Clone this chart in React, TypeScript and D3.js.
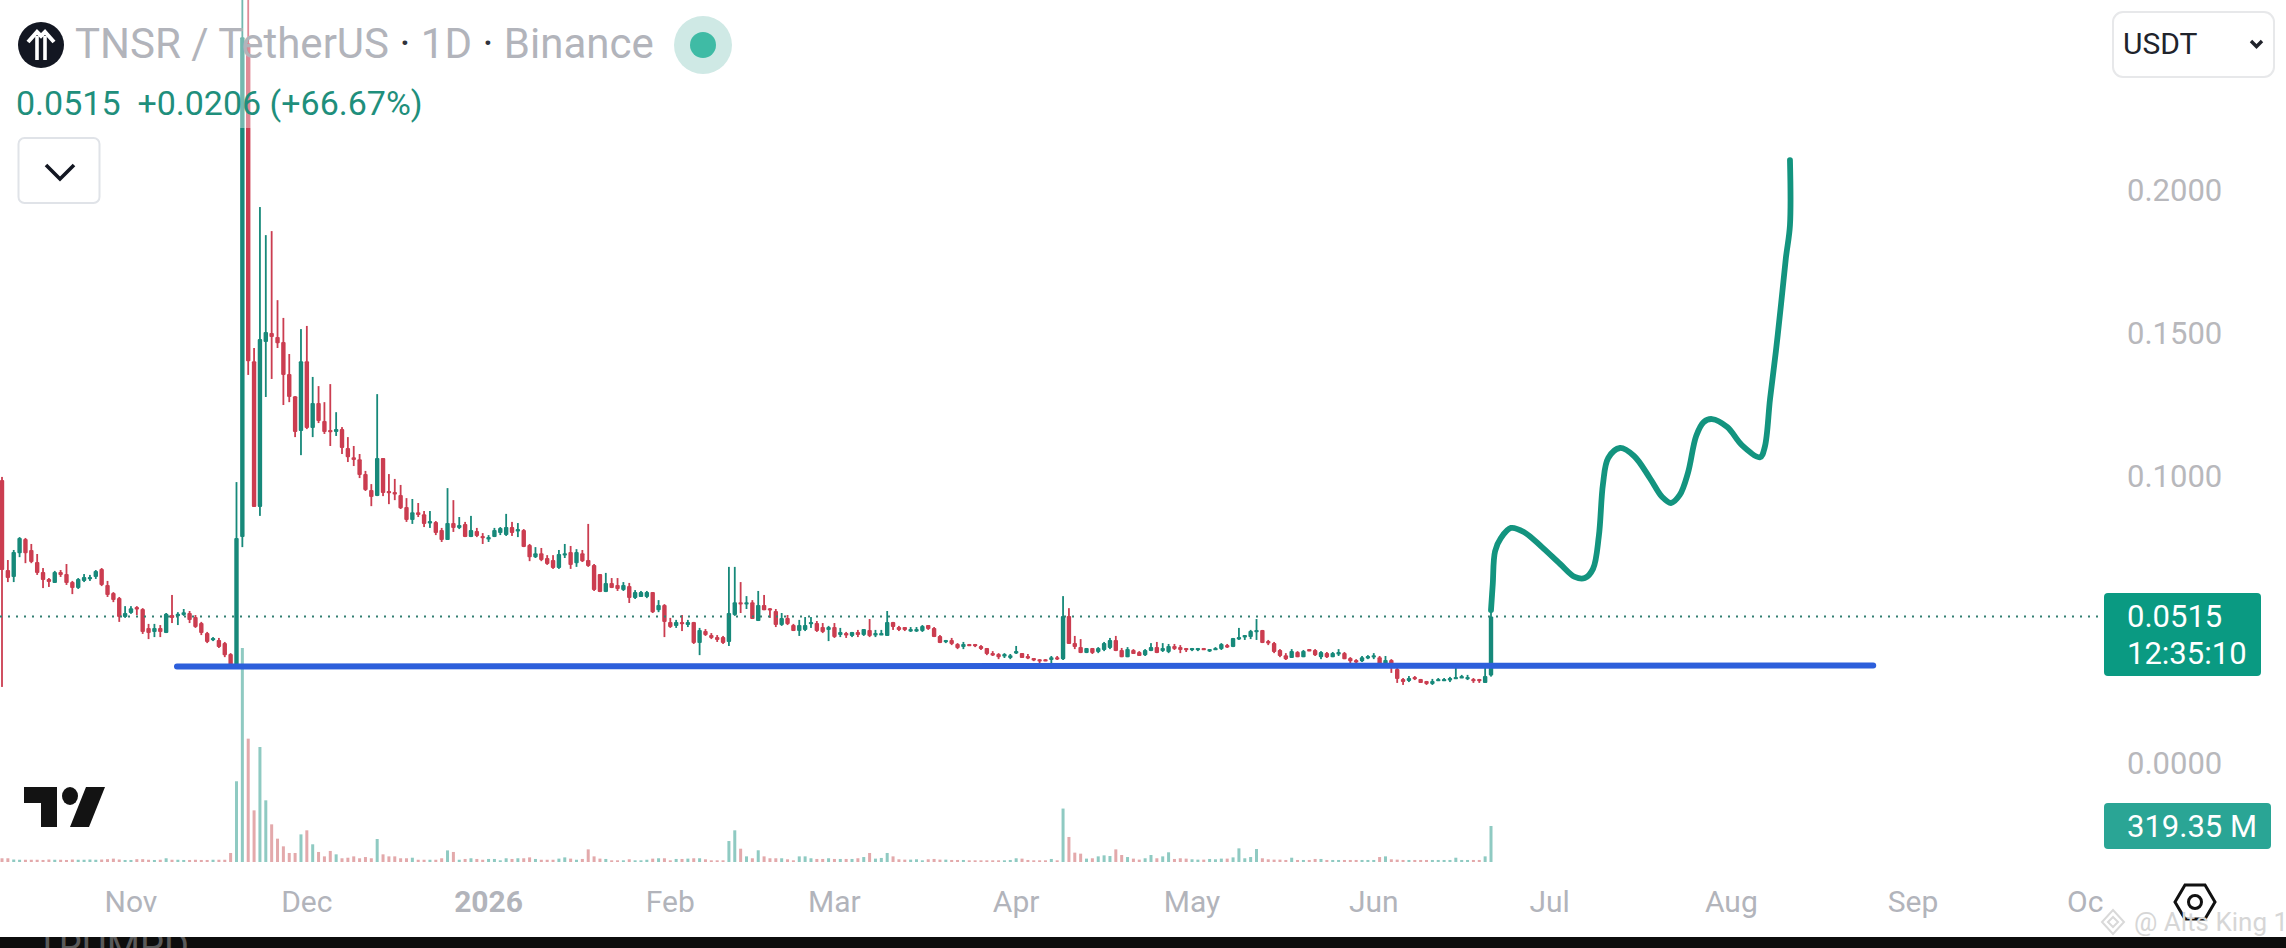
import React from "react";
import * as d3 from "d3";

// Prices are in ten-thousandths of USDT, one entry per daily candle from 10 Oct 2025.
const firstDay = Date.UTC(2025, 9, 10);
const lastDay = Date.UTC(2026, 5, 21);
const PRICE_UNIT = 1e-4;

const highs = [
  1002,712,747,792,789,768,733,684,649,674,
  677,698,639,649,663,660,677,684,639,600,
  583,551,551,551,544,489,489,485,527,590,
  530,541,534,520,496,461,443,440,426,387,
  984,2900,2800,1452,1944,1846,1860,1619,1557,1431,
  1284,1518,1529,1351,1319,1263,1326,1228,1176,1141,
  1110,1082,1023,977,1291,1068,1012,995,974,928,
  925,911,883,883,848,824,963,921,862,845,
  866,824,806,799,824,827,873,845,841,820,
  768,757,754,729,729,747,768,761,750,747,
  838,698,663,667,649,649,635,632,607,604,
  604,600,572,558,510,503,520,503,496,475,
  471,457,450,447,688,688,635,586,572,604,
  590,544,541,527,520,489,503,513,513,499,
  492,482,492,475,461,461,468,471,506,468,
  468,534,496,482,478,478,478,485,485,478,
  450,433,440,422,426,419,419,415,405,394,
  387,387,384,412,387,384,370,366,366,377,
  377,586,544,447,436,405,405,408,426,440,
  447,405,408,401,394,401,422,426,422,419,
  419,415,405,405,405,405,401,408,422,419,
  440,475,450,468,506,468,433,426,401,387,
  401,394,398,401,401,394,391,391,401,391,
  373,366,377,380,387,377,377,366,339,300,
  307,307,297,290,297,300,300,304,339,311,
  311,300,297,339,545,
];
const bodyHighs = [
  991,677,740,789,785,747,705,670,646,670,
  670,663,635,646,653,653,674,681,625,597,
  579,527,544,548,541,475,475,475,524,520,
  524,530,527,513,492,457,440,433,422,384,
  789,2537,2516,1406,1483,1508,1504,1490,1473,1361,
  1284,1406,1406,1260,1260,1197,1166,1169,1169,1103,
  1071,1064,1012,956,1068,1068,953,949,939,897,
  879,879,872,848,845,817,841,841,834,838,
  817,813,796,792,817,824,827,827,820,817,
  764,736,736,719,712,733,736,740,740,736,
  712,695,663,632,632,625,625,621,600,600,
  600,600,555,555,496,496,496,496,496,468,
  464,450,443,443,527,565,565,565,565,555,
  555,544,534,510,510,485,485,485,496,492,
  478,478,478,461,457,461,461,471,468,457,
  457,496,496,478,478,471,471,482,485,475,
  447,433,433,419,419,419,419,412,405,387,
  384,384,380,394,387,377,370,366,366,373,
  373,517,517,422,408,405,405,405,422,433,
  433,398,401,398,391,398,408,408,405,412,
  412,408,405,405,405,405,401,405,419,415,
  440,443,450,464,468,468,429,422,398,380,
  394,391,394,401,398,391,387,387,391,387,
  370,363,373,377,380,373,363,363,332,297,
  300,304,297,290,290,297,297,300,304,307,
  304,297,297,307,515,
];
const bodyLows = [
  677,649,653,736,736,705,667,642,635,632,
  660,632,614,614,639,649,653,625,590,572,
  513,513,527,541,461,457,461,461,457,510,
  520,520,503,478,457,426,433,408,380,342,
  339,792,1406,897,897,1473,1490,1469,1358,1281,
  1159,1162,1173,1173,1197,1159,1159,1159,1103,1071,
  1061,1009,956,932,935,946,946,942,893,852,
  852,869,838,845,806,782,782,824,824,792,
  792,796,789,789,792,806,799,806,817,757,
  722,722,712,698,684,684,733,695,701,708,
  691,607,600,600,614,611,607,579,579,583,
  583,530,537,496,478,482,492,485,422,422,
  450,440,433,422,426,520,562,562,506,499,
  537,541,485,485,489,464,464,468,492,464,
  461,468,443,450,450,447,450,450,447,450,
  454,447,478,468,468,468,464,464,471,443,
  422,426,419,405,408,415,415,401,384,384,
  373,380,370,391,370,373,366,363,363,363,
  366,366,419,408,387,387,387,391,398,405,
  394,373,373,384,377,380,394,387,394,391,
  401,398,401,401,401,401,398,401,401,415,
  408,436,443,443,464,422,426,391,377,366,
  370,373,373,398,380,373,373,373,387,366,
  359,359,359,370,373,342,339,335,297,286,
  290,300,283,279,279,293,297,300,300,304,
  304,293,293,283,309,
];
const lows = [
  269,635,635,722,701,701,660,614,618,632,
  653,625,593,611,635,639,646,621,583,565,
  496,510,524,520,454,436,443,443,457,492,
  485,517,492,475,450,422,429,405,373,339,
  339,757,1358,897,866,1281,1344,1452,1253,1263,
  1141,1078,1169,1141,1190,1152,1110,1145,1082,1054,
  1040,998,953,900,935,935,907,921,890,845,
  838,862,827,824,799,775,782,810,820,792,
  792,792,768,775,792,799,796,796,792,757,
  708,719,708,695,681,681,719,681,688,705,
  688,604,600,600,614,604,604,562,576,583,
  579,527,530,443,475,475,464,478,419,380,
  447,436,426,419,412,517,527,541,506,499,
  537,510,478,482,485,464,447,464,475,461,
  457,429,440,443,440,443,443,447,443,443,
  450,447,468,464,464,461,461,461,468,443,
  422,422,415,401,401,412,408,398,380,377,
  366,370,366,384,370,366,359,352,359,349,
  363,363,419,401,387,387,384,387,394,401,
  394,373,373,384,377,377,394,387,391,387,
  398,387,391,394,394,398,391,398,398,405,
  408,433,433,436,433,422,415,387,373,363,
  370,373,373,394,377,366,370,373,377,366,
  352,349,356,366,366,339,339,318,283,276,
  286,293,283,276,276,290,293,286,297,300,
  293,283,283,283,305,
];
const directions =
  "RRGGRRRRRG" + "RRRGGGGRRR" + "RGGRRRGRGR" + "GGRRRRGRRR" + "GGRRGGRRRR" +
  "RGRGRRRGRR" + "RRRRGRRRRR" + "GRRGRRGRGR" + "GRRGGGGRGR" + "RGRRRGGRGR" +
  "RRRGRRGRGG" + "GRGRRGRGRG" + "RRRRGGRGRG" + "RRRGRRGGGR" + "RGRGRGRGRG" +
  "GGRRRGGGRR" + "RGRRGRRRRR" + "RGGGRRRRRG" + "RGRRRGRGGG" + "RRGRRGGRGG" +
  "RRRGGRGGGR" + "GGGGGRRRRR" + "GRGRRGRGGR" + "RRGGGRGRRR" + "GRRRGGGGGG" + "GRRGG";
// Volume in millions of TNSR.
const volumes = [
  33,33,22,20,20,20,20,18,22,20,
  20,18,22,20,20,22,20,22,25,30,
  22,18,18,25,25,20,18,20,33,20,
  20,18,18,20,18,18,20,20,20,80,
  716,1898,1094,458,1020,547,334,207,139,80,
  80,245,281,157,89,50,98,68,33,38,
  50,33,44,33,204,68,50,50,33,33,
  38,20,20,20,20,33,103,89,20,27,
  33,27,20,27,27,15,33,27,33,33,
  41,27,20,20,20,30,41,30,20,27,
  112,50,30,27,15,15,15,24,15,15,
  20,30,33,33,15,27,27,30,33,33,
  24,15,15,15,186,281,118,50,33,104,
  50,33,33,33,24,15,50,50,33,27,
  27,33,27,27,27,27,33,44,80,30,
  36,80,50,24,21,21,24,15,24,27,
  21,21,18,18,18,15,15,15,15,15,
  15,15,18,33,30,18,15,15,15,27,
  15,474,222,83,74,30,33,50,59,53,
  112,62,44,30,21,33,62,33,50,86,
  27,33,30,24,21,21,27,24,30,30,
  41,121,33,44,115,33,24,21,21,18,
  38,18,18,18,27,27,18,18,18,18,
  18,18,18,18,18,44,50,24,21,18,
  18,18,18,18,18,18,18,18,38,18,
  18,18,18,50,319.35,
];

// Hand-drawn projection: days after the first candle, and price.
const forecastDays = [254,254.3,254.7,255.7,257.4,259.6,262.7,265.8,268.3,270,271.4,272.4,273.1,274,276,278.4,281.1,283.2,284.7,286.2,287.6,289,290.3,291.7,294.3,296.8,299.9,300.7,301.6,302.6,303.5,304.3,305,305];
const forecastPrices = [0.0537,0.0628,0.0743,0.0789,0.0824,0.081,0.0757,0.0698,0.0653,0.0649,0.0681,0.0796,0.0977,0.1068,0.1103,0.1075,0.0998,0.0932,0.0911,0.0939,0.1016,0.1145,0.1194,0.1204,0.1176,0.1113,0.1071,0.1106,0.1274,0.1441,0.1609,0.1766,0.1881,0.2108];

const supportDays = [29.85, 319.2];
const supportPrices = [0.034, 0.0344];

const lastPrice = 0.0515;
const priceTicks = [0.2, 0.15, 0.1, 0];
const monthTicks = [
  { date: Date.UTC(2025, 10, 1), label: "Nov" },
  { date: Date.UTC(2025, 11, 1), label: "Dec" },
  { date: Date.UTC(2026, 0, 1), label: "2026", bold: true },
  { date: Date.UTC(2026, 1, 1), label: "Feb" },
  { date: Date.UTC(2026, 2, 1), label: "Mar" },
  { date: Date.UTC(2026, 3, 1), label: "Apr" },
  { date: Date.UTC(2026, 4, 1), label: "May" },
  { date: Date.UTC(2026, 5, 1), label: "Jun" },
  { date: Date.UTC(2026, 6, 1), label: "Jul" },
  { date: Date.UTC(2026, 7, 1), label: "Aug" },
  { date: Date.UTC(2026, 8, 1), label: "Sep" },
];

const UP = "#17897a";
const DOWN = "#cb3d50";
const UP_VOL = "#8fcac2";
const DOWN_VOL = "#e3a9ab";
const FONT = "Roboto, sans-serif";
const GREY = "#b2b4bb";

const DAY = 864e5;
const x = d3.scaleUtc().domain([firstDay, lastDay]).range([2, 1491]);
const xAt = (i: number) => x(firstDay + i * DAY);
const y = d3.scaleLinear().domain([0, 0.2]).range([764, 191]);
const yv = d3.scaleLinear().domain([0, 1898]).range([862, 648]);

export default function App() {
  const forecast = d3
    .line<number>()
    .x((d) => xAt(d))
    .y((_, i) => y(forecastPrices[i]))
    .curve(d3.curveCatmullRom.alpha(0.5))(forecastDays) as string;
  const support = d3
    .line<number>()
    .x((d) => xAt(d))
    .y((_, i) => y(supportPrices[i]))(supportDays) as string;

  return (
    <svg
      width={2286}
      height={948}
      viewBox="0 0 2286 948"
      style={{ position: "fixed", left: 0, top: 0, background: "#fff" }}
      fontFamily={FONT}
    >
      <defs>
        <clipPath id="band">
          <rect x={0} y={937} width={2286} height={11} />
        </clipPath>
      </defs>
      <rect width={2286} height={948} fill="#fff" />

      {/* volume */}
      {volumes.map((v, i) => (
        <rect
          key={i}
          x={xAt(i) - 1.5}
          y={yv(v)}
          width={3}
          height={yv(0) - yv(v)}
          fill={directions[i] === "G" ? UP_VOL : DOWN_VOL}
        />
      ))}

      {/* candles */}
      {highs.map((h, i) => {
        const c = directions[i] === "G" ? UP : DOWN;
        const top = y(bodyHighs[i] * PRICE_UNIT);
        const bot = y(bodyLows[i] * PRICE_UNIT);
        return (
          <g key={i} fill={c}>
            <rect
              x={xAt(i) - 0.9}
              y={y(h * PRICE_UNIT)}
              width={1.8}
              height={y(lows[i] * PRICE_UNIT) - y(h * PRICE_UNIT)}
            />
            <rect x={xAt(i) - 2.2} y={top} width={4.4} height={Math.max(bot - top, 2.4)} rx={1} />
          </g>
        );
      })}

      {/* last price dotted line */}
      <line
        x1={0}
        x2={2104}
        y1={y(lastPrice)}
        y2={y(lastPrice)}
        stroke="#327f72"
        strokeWidth={2}
        strokeDasharray="2 6"
      />

      <path d={support} fill="none" stroke="#2d5fdb" strokeWidth={6} strokeLinecap="round" />
      <path
        d={forecast}
        fill="none"
        stroke="#13947f"
        strokeWidth={5.8}
        strokeLinejoin="round"
        strokeLinecap="round"
      />

      {/* legend backdrop */}
      <rect x={0} y={0} width={670} height={128} fill="#fff" fillOpacity={0.4} />

      {/* header */}
      <circle cx={41} cy={45} r={23} fill="#131722" />
      <g stroke="#fff" fill="none" strokeWidth={4}>
        <path d="M37 60V36M45 60V36" strokeWidth={3.6} />
        <path d="M28 42L37 32L41 36L45 32L54 42" strokeLinejoin="miter" />
      </g>
      <text x={75} y={43} dominantBaseline="central" fontSize={42} fill={GREY}>
        TNSR / TetherUS <tspan fill="#30333c">·</tspan> 1D <tspan fill="#30333c">·</tspan> Binance
      </text>
      <circle cx={703} cy={45} r={29} fill="#cfe9e5" />
      <circle cx={703} cy={45} r={13} fill="#3fbba5" />
      <text x={16} y={103} dominantBaseline="central" fontSize={34} fill="#1f8f7c" xmlSpace="preserve">
        0.0515{"  "}+0.0206 (+66.67%)
      </text>
      <rect x={18.5} y={138} width={81} height={65} rx={6} fill="#fff" stroke="#e0e3e8" strokeWidth={2} />
      <path d="M46 165L60 179L74 165" fill="none" stroke="#131722" strokeWidth={3.6} />

      <rect x={2113} y={12} width={161} height={65} rx={10} fill="#fff" stroke="#e7e8ea" strokeWidth={2} />
      <text x={2123} y={43} dominantBaseline="central" fontSize={30} fill="#20232b">
        USDT
      </text>
      <path d="M2251 41L2256.5 46.5L2262 41" fill="none" stroke="#20232b" strokeWidth={3.4} />

      {/* price axis */}
      {priceTicks.map((t) => (
        <text key={t} x={2127} y={y(t) - 1} dominantBaseline="central" fontSize={31} fill="#b8b8bc">
          {t.toFixed(4)}
        </text>
      ))}
      <rect x={2104} y={593} width={157} height={83} rx={4} fill="#0a9a82" />
      <text x={2127} y={616} dominantBaseline="central" fontSize={31} fill="#fff">
        {lastPrice.toFixed(4)}
      </text>
      <text x={2127} y={653} dominantBaseline="central" fontSize={31} fill="#fff">
        12:35:10
      </text>
      <rect x={2104} y={803} width={167} height={46} rx={4} fill="#2aa595" />
      <text x={2127} y={826} dominantBaseline="central" fontSize={31} fill="#fff">
        319.35 M
      </text>

      {/* time axis */}
      {monthTicks.map((t) => (
        <text
          key={t.label}
          x={x(t.date)}
          y={901}
          textAnchor="middle"
          dominantBaseline="central"
          fontSize={30}
          fontWeight={t.bold ? 700 : 400}
          fill={GREY}
        >
          {t.label}
        </text>
      ))}
      <text x={2067} y={901} dominantBaseline="central" fontSize={30} fill={GREY}>
        Oc
      </text>

      {/* TradingView logo */}
      <g fill="#131313">
        <polygon points="24,787 57,787 57,827 41,827 41,803 24,803" />
        <ellipse cx={70} cy={796} rx={8} ry={9} />
        <polygon points="86,787 105,787 89,827 70,827" />
      </g>

      {/* settings hexagon */}
      <polygon points="2175,902 2185,885 2205,885 2215,902 2205,919 2185,919" fill="#fff" stroke="#111" strokeWidth={3} />
      <circle cx={2195} cy={902} r={6.5} fill="none" stroke="#111" strokeWidth={3} />

      {/* bottom band and watermark */}
      <rect x={0} y={937} width={2286} height={11} fill="#0d0d0d" />
      <text x={36} y={960} fontSize={38} fill="#5a5a5a" clipPath="url(#band)">
        TRUMPD
      </text>
      <g fill="none" stroke="#d9d9d9" strokeWidth={2}>
        <polygon points="2113,910 2124,922 2113,934 2102,922" />
        <polygon points="2113,917 2118,922 2113,927 2108,922" />
      </g>
      <text x={2134} y={922} dominantBaseline="central" fontSize={26} fill="#d6d6d6">
        @ Alts King 1
      </text>
    </svg>
  );
}
